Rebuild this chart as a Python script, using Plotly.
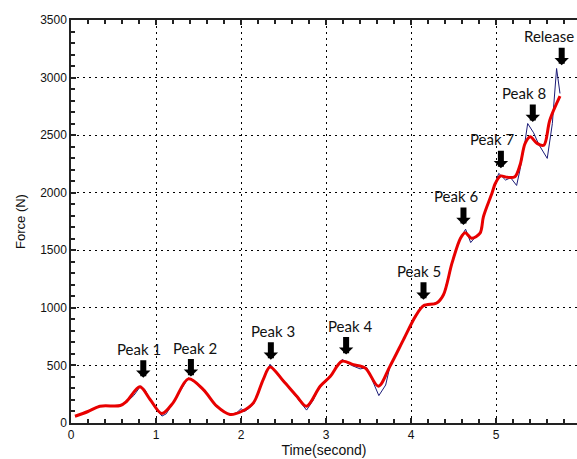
import plotly.graph_objects as go

# Smoothed force (red)
smooth_time = [0.047, 0.20, 0.34, 0.58, 0.655, 0.81, 0.93, 1.067, 1.20, 1.38, 1.556, 1.714, 1.87, 2.01,
               2.145, 2.26, 2.34, 2.50, 2.655, 2.77, 2.93, 3.05, 3.185, 3.32, 3.46, 3.615, 3.75, 3.91,
               4.05, 4.145, 4.30, 4.38, 4.48, 4.58, 4.635, 4.71, 4.81, 4.85, 4.95, 4.99, 5.05, 5.13,
               5.22, 5.28, 5.34, 5.40, 5.48, 5.56, 5.63, 5.75]
smooth_force = [59, 100, 146, 152, 189, 314, 204, 82, 175, 383, 290, 146, 74, 102,
                175, 377, 487, 362, 232, 146, 319, 406, 536, 507, 478, 319, 492, 724,
                926, 1018, 1042, 1114, 1388, 1605, 1653, 1605, 1648, 1792, 1995, 2082, 2145, 2134,
                2139, 2240, 2428, 2485, 2428, 2413, 2630, 2838]

# Raw force (blue)
raw_time = [0.05, 0.20, 0.30, 0.34, 0.58, 0.66, 0.74, 0.82, 0.87, 0.93, 1.00, 1.07, 1.12, 1.20, 1.30,
            1.38, 1.46, 1.56, 1.71, 1.87, 1.95, 2.00, 2.04, 2.10, 2.15, 2.26, 2.34, 2.42, 2.50, 2.65,
            2.77, 2.85, 2.93, 3.00, 3.05, 3.19, 3.30, 3.40, 3.48, 3.62, 3.70, 3.75, 3.91, 4.05, 4.12,
            4.30, 4.38, 4.48, 4.58, 4.64, 4.70, 4.76, 4.81, 4.85, 4.95, 5.03, 5.11, 5.17, 5.24, 5.28,
            5.34, 5.37, 5.44, 5.50, 5.60, 5.66, 5.71, 5.75]
raw_force = [55, 100, 140, 150, 152, 185, 240, 322, 290, 200, 120, 60, 80, 175, 300,
             392, 350, 285, 140, 70, 90, 125, 100, 130, 170, 380, 510, 440, 370, 225,
             112, 200, 330, 360, 410, 552, 500, 470, 480, 238, 330, 490, 730, 930, 1010,
             1045, 1110, 1390, 1610, 1683, 1567, 1620, 1650, 1790, 2000, 2168, 2110, 2130, 2063, 2200,
             2450, 2601, 2520, 2420, 2298, 2600, 3079, 2862]

# Arrow markers (tip location) and labels
marker_labels = ["Peak 1", "Peak 2", "Peak 3", "Peak 4", "Peak 5", "Peak 6", "Peak 7", "Peak 8", "Release"]
marker_time = [0.85, 1.41, 2.35, 3.235, 4.145, 4.615, 5.055, 5.43, 5.77]
marker_force = [394, 403, 550, 594, 1070, 1720, 2212, 2615, 3107]
label_xshift = [-4, 4, 2, 4, -5, -7, -9, -9, -13]

x_ticks = [0, 1, 2, 3, 4, 5]
y_ticks = [0, 500, 1000, 1500, 2000, 2500, 3000, 3500]

fig = go.Figure()
fig.add_trace(go.Scatter(x=raw_time, y=raw_force, mode="lines",
                         line=dict(color="#1c1c78", width=1), showlegend=False))
fig.add_trace(go.Scatter(x=smooth_time, y=smooth_force, mode="lines",
                         line=dict(color="#e80000", width=3, shape="spline", smoothing=0.9),
                         showlegend=False))

for lab, t, f, dx in zip(marker_labels, marker_time, marker_force, label_xshift):
    fig.add_annotation(x=t, y=f, text="", showarrow=True, ax=0, ay=-19,
                       arrowhead=1, arrowwidth=6, arrowsize=0.4, arrowcolor="#000000")
    fig.add_annotation(x=t, y=f, text=lab, showarrow=False, xshift=dx, yshift=29,
                       font=dict(family="Lato", size=15, color="#111111"))

axis_font = dict(family="Liberation Sans", size=12, color="#111111")
fig.update_xaxes(range=[0, 5.95], tickvals=x_ticks, ticks="inside", ticklen=5, tickwidth=1.5,
                 tickcolor="#222", showline=True, linecolor="#222", linewidth=1.5, mirror="ticks",
                 showgrid=True, gridcolor="#000000", gridwidth=1, griddash="2px,4px",
                 zeroline=False, tickfont=axis_font, automargin=False,
                 minor=dict(dtick=0.2, ticks="inside", ticklen=4, tickwidth=1.5, tickcolor="#222", showgrid=False),
                 title=dict(text="Time(second)", font=dict(family="Liberation Sans", size=14, color="#111"), standoff=3))
fig.update_yaxes(range=[0, 3500], tickvals=y_ticks, ticks="inside", ticklen=5, tickwidth=1.5,
                 tickcolor="#222", showline=True, linecolor="#222", linewidth=1.5, mirror=False,
                 showgrid=True, gridcolor="#000000", gridwidth=1, griddash="2px,4px",
                 zeroline=False, tickfont=axis_font, automargin=False,
                 minor=dict(dtick=100, ticks="inside", ticklen=4, tickwidth=1.5, tickcolor="#222", showgrid=False),
                 title=dict(text="Force (N)", font=dict(family="Liberation Sans", size=13, color="#111"), standoff=12))

fig.update_layout(width=577, height=459, margin=dict(l=71, r=0, t=20, b=36, autoexpand=False),
                  plot_bgcolor="white", paper_bgcolor="white")
fig.write_html("out.html", config={"displayModeBar": False},
               post_script="document.body.style.margin='0';document.body.style.overflow='hidden';")
